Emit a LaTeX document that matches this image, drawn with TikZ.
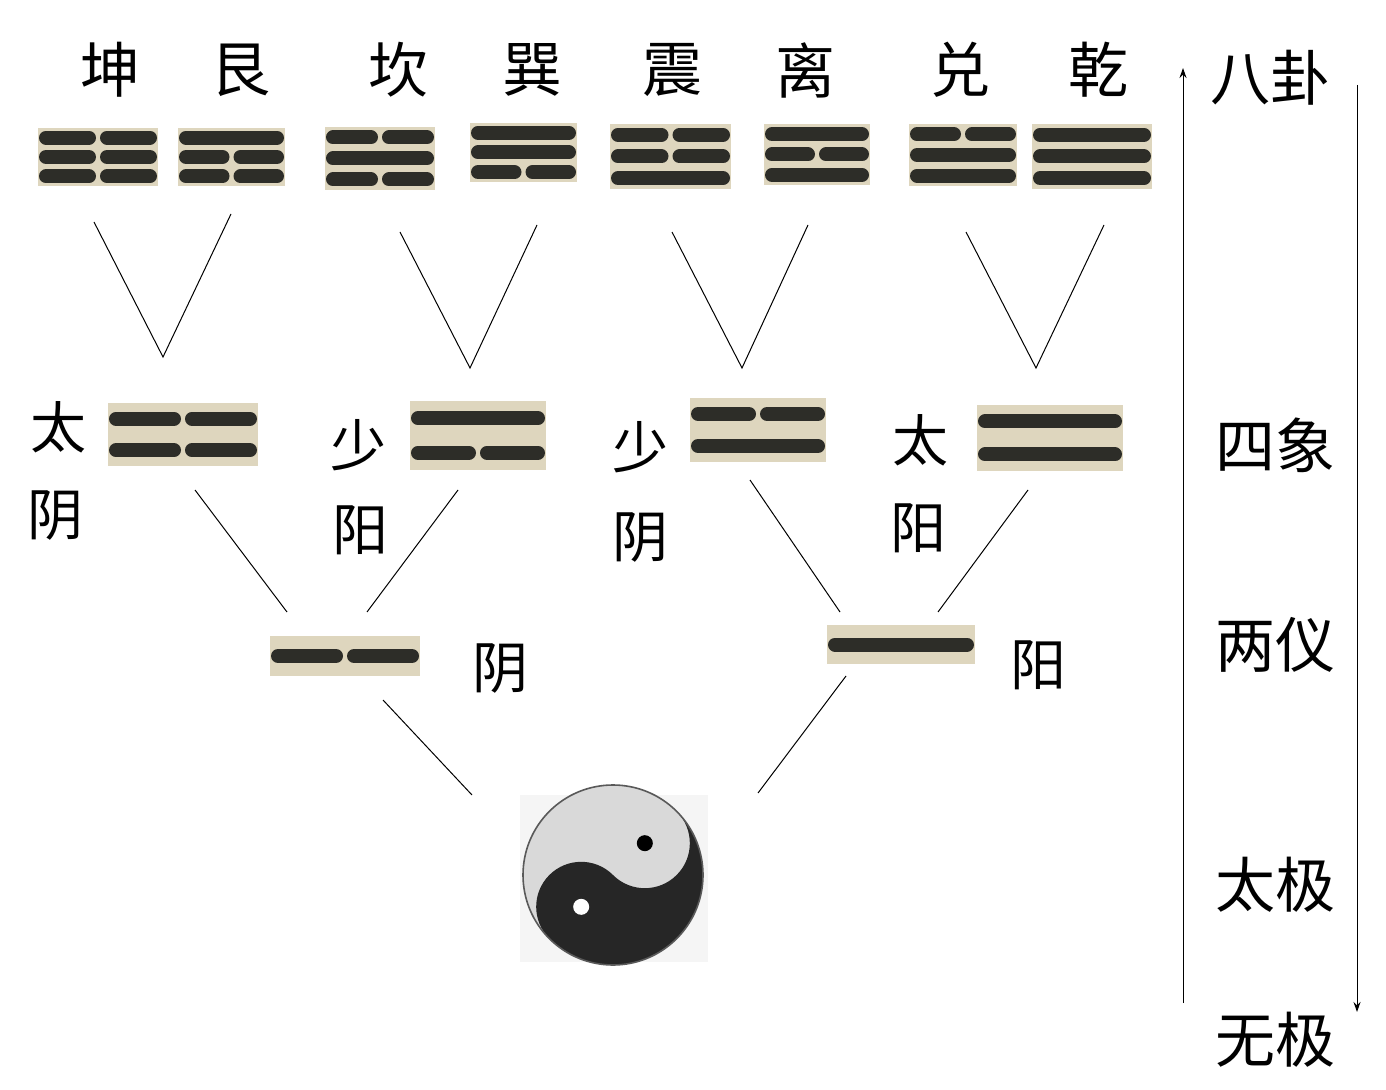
\documentclass[tikz,border=0pt]{standalone}
\usepackage{fontspec}
\usetikzlibrary{arrows.meta}
\newfontfamily\cjk{Noto Sans CJK SC}
\definecolor{boxbg}{RGB}{222,214,190}
\definecolor{barc}{RGB}{45,45,40}
\newcommand\guabox[7]{%
  \fill[boxbg] (#2,#3) rectangle (#4,#5);
  \coordinate (#1) at ({(#2+#4)/2},{(#3+#5)/2});
  \foreach \v [count=\i] in {#7} {%
    \pgfmathsetmacro\yy{#3+(#5-#3)*(\i-0.5)/#6}
    \ifnum\v=1
      \draw[bar] (#2+8,\yy)--(#4-8,\yy);
    \else
      \draw[bar] (#2+8,\yy)--({(#2+#4)/2-9},\yy);
      \draw[bar] ({(#2+#4)/2+9},\yy)--(#4-8,\yy);
    \fi}}
\begin{document}
\begin{tikzpicture}[x=0.5pt,y=-0.5pt,
  bar/.style={barc,line width=7pt,line cap=round},
  conn/.style={black,line width=0.5pt},
  big/.style={font=\cjk\fontsize{30}{30}\selectfont,inner sep=0pt},
  mid/.style={font=\cjk\fontsize{28}{28}\selectfont,inner sep=0pt}]
\useasboundingbox (0,0) rectangle (1386,1090);
% top labels
\foreach \t/\x/\n in {坤/110/k,艮/240/g,坎/398/kan,巽/532/x,震/672/z,离/805/l,兑/960/d,乾/1098/q}
  \node[big] (t\n) at (\x,70) {\t};
% trigrams (top line first)
\guabox{g1}{38}{128}{158}{186}{3}{0,0,0}
\guabox{g2}{178}{128}{285}{186}{3}{1,0,0}
\guabox{g3}{325}{127}{435}{190}{3}{0,1,0}
\guabox{g4}{470}{123}{577}{182}{3}{1,1,0}
\guabox{g5}{610}{124}{731}{189}{3}{0,0,1}
\guabox{g6}{764}{124}{870}{185}{3}{1,0,1}
\guabox{g7}{909}{124}{1017}{186}{3}{0,1,1}
\guabox{g8}{1032}{124}{1152}{189}{3}{1,1,1}
% four images
\guabox{s1}{108}{403}{258}{466}{2}{0,0}
\guabox{s2}{410}{401}{546}{470}{2}{1,0}
\guabox{s3}{690}{398}{826}{462}{2}{0,1}
\guabox{s4}{977}{405}{1123}{471}{2}{1,1}
% two modes
\guabox{y1}{270}{636}{420}{676}{1}{0}
\guabox{y2}{827}{625}{975}{664}{1}{1}
% V connectors
\foreach \a/\b/\c/\d/\e/\f [count=\i] in {94/222/163/357/231/214,400/232/470/368/537/225,672/232/742/368/808/225,966/232/1036/368/1104/225}{
  \coordinate (va\i) at (\a,\b); \coordinate (vb\i) at (\c,\d); \coordinate (vc\i) at (\e,\f);
  \draw[conn] (va\i)--(vb\i)--(vc\i);}
\foreach \a/\b/\c/\d [count=\i] in {195/490/287/612,458/490/367/612,750/480/840/612,1028/490/938/612,383/700/472/795,846/676/758/793}{
  \coordinate (wa\i) at (\a,\b); \coordinate (wb\i) at (\c,\d);
  \draw[conn] (wa\i)--(wb\i);}
% level 2 labels
\node[mid] (l1) at (58,427) {太};
\node[mid] (l2) at (55,515) {阴};
\node[mid] (l3) at (358,445) {少};
\node[mid] (l4) at (360,530) {阳};
\node[mid] (l5) at (640,447) {少};
\node[mid] (l6) at (640,537) {阴};
\node[mid] (l7) at (920,440) {太};
\node[mid] (l8) at (918,528) {阳};
\node[mid] (l9) at (500,668) {阴};
\node[mid] (l10) at (1038,665) {阳};
% right scale
\node[big] (r1) at (1270,78) {八卦};
\node[big] (r2) at (1275,445) {四象};
\node[big] (r3) at (1275,645) {两仪};
\node[big] (r4) at (1275,885) {太极};
\node[big] (r5) at (1275,1040) {无极};
\coordinate (ua) at (1183,1003); \coordinate (ub) at (1183,68);
\coordinate (da) at (1357,85); \coordinate (db) at (1357,1012);
\draw[conn,-{Stealth[length=5pt,width=3.5pt]}] (ua)--(ub);
\draw[conn,-{Stealth[length=5pt,width=3.5pt]}] (da)--(db);
% taiji
\fill[gray!8] (520,795) rectangle (708,962);
\begin{scope}[shift={(613,875)},x=1pt,y=1pt,rotate=-45]
  \fill[gray!30] (0,0) circle (45pt);
  \fill[black!85] (0,45pt) arc[start angle=90,end angle=-90,radius=45pt]
     arc[start angle=-90,end angle=-270,radius=22.5pt]
     arc[start angle=-90,end angle=90,radius=22.5pt];
  \draw[gray!70!black,line width=0.8pt] (0,0) circle (45pt);
  \fill[white] (0,-22.5pt) circle (4pt);
  \fill[black] (0,22.5pt) circle (4pt);
\end{scope}
\node[inner sep=0pt] (taiji) at (613,875) {};
\end{tikzpicture}
\end{document}
